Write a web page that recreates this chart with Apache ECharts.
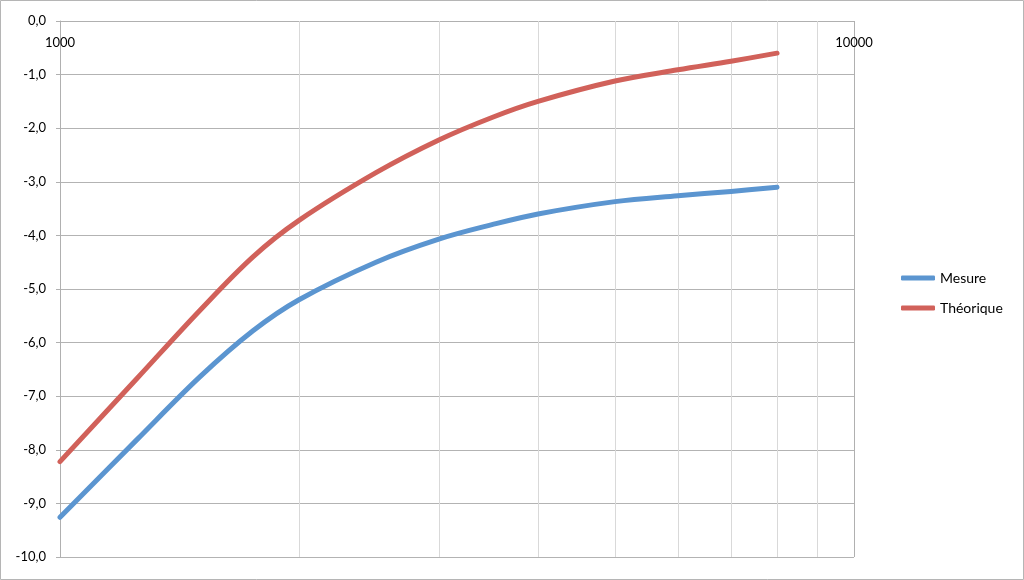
<!DOCTYPE html>
<html>
<head>
<meta charset="utf-8">
<script src="https://cdn.jsdelivr.net/npm/echarts@6/dist/echarts.min.js"></script>
<style>
html,body{margin:0;padding:0;background:#fff;}
#chart{width:1024px;height:580px;}
</style>
</head>
<body>
<div id="chart"></div>
<script>
// Frequencies (log x axis)
var freqs = [1000, 1250, 1500, 1750, 2000, 2500, 3000, 3500, 4000, 5000, 6000, 7000, 8000];
var mesure = [-9.26, -7.81, -6.64, -5.78, -5.20, -4.50, -4.07, -3.80, -3.60, -3.37, -3.26, -3.18, -3.10];
var theorique = [-8.22, -6.67, -5.40, -4.40, -3.72, -2.83, -2.22, -1.80, -1.50, -1.12, -0.91, -0.75, -0.60];
var minorGrid = [2000, 3000, 4000, 5000, 6000, 7000, 8000, 9000];
var seriesNames = ['Mesure', 'Théorique'];

function pairs(xs, ys) { return xs.map(function (x, i) { return [x, ys[i]]; }); }

var font = 'Lato, "Open Sans", sans-serif';
var chart = echarts.init(document.getElementById('chart'));
chart.setOption({
  animation: false,
  backgroundColor: '#fff',
  graphic: [{
    type: 'rect', z: 100, silent: true,
    shape: {x: 0.5, y: 0.5, width: 1023, height: 579},
    style: {fill: 'none', stroke: '#b5b5b5', lineWidth: 1}
  }],
  grid: {left: 60, top: 21, right: 170, bottom: 23, containLabel: false},
  legend: {
    orient: 'vertical', left: 896, top: 266,
    itemWidth: 34, itemHeight: 5, itemGap: 16,
    icon: 'roundRect',
    textStyle: {fontFamily: font, fontSize: 14, color: '#000'},
    data: seriesNames
  },
  xAxis: {
    type: 'log', logBase: 10, min: 1000, max: 10000,
    position: 'top',
    axisLine: {show: true, lineStyle: {color: '#b0b0b0', width: 1}},
    axisTick: {show: false},
    axisLabel: {inside: true, margin: 15, fontFamily: font, fontSize: 13, color: '#000',
      formatter: function (v) { return String(Math.round(v)); }},
    splitLine: {show: true, lineStyle: {color: '#b0b0b0', width: 1}},
    minorTick: {show: false},
    minorSplitLine: {show: false}
  },
  yAxis: {
    type: 'value', min: -10, max: 0, interval: 1,
    axisLine: {show: true, lineStyle: {color: '#b0b0b0', width: 1}},
    axisTick: {show: true, length: 4, lineStyle: {color: '#b0b0b0'}},
    axisLabel: {margin: 14, fontFamily: font, fontSize: 13, color: '#000',
      formatter: function (v) { return v.toFixed(1).replace('.', ','); }},
    splitLine: {show: true, lineStyle: {color: '#b3b3b3', width: 1}}
  },
  series: [
    {
      name: seriesNames[0], type: 'line', smooth: 0.35, showSymbol: false, symbol: 'none',
      data: pairs(freqs, mesure),
      color: '#5b95d0',
      lineStyle: {width: 5, color: '#5b95d0', cap: 'round', join: 'round'},
      z: 3,
      markLine: {
        silent: true, symbol: 'none', animation: false,
        label: {show: false},
        lineStyle: {color: '#d9d9d9', width: 1, type: 'solid'},
        data: minorGrid.map(function (v) { return {xAxis: v}; }),
        z: 1
      }
    },
    {
      name: seriesNames[1], type: 'line', smooth: 0.35, showSymbol: false, symbol: 'none',
      data: pairs(freqs, theorique),
      color: '#d1615a',
      lineStyle: {width: 5, color: '#d1615a', cap: 'round', join: 'round'},
      z: 3
    }
  ]
});
</script>
</body>
</html>
